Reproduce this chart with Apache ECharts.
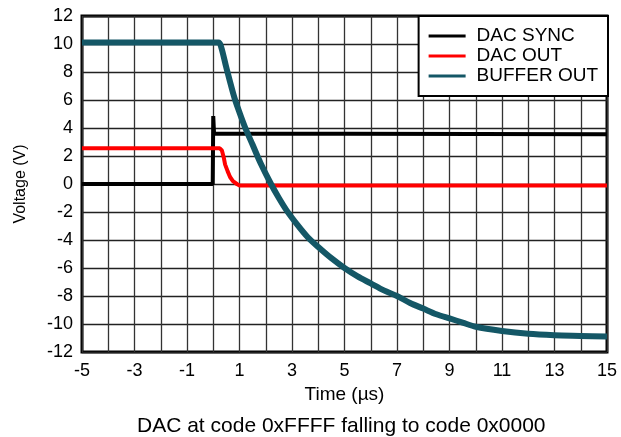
<!DOCTYPE html>
<html>
<head>
<meta charset="utf-8">
<script src="https://cdn.jsdelivr.net/npm/echarts@6/dist/echarts.min.js"></script>
<style>html,body{margin:0;padding:0;background:#fff;}#c{width:621px;height:437px;}</style>
</head>
<body>
<div id="c"></div>
<script>
// Series names
const seriesNames = ['DAC SYNC', 'DAC OUT', 'BUFFER OUT'];
// DAC SYNC (black)
const syncTime  = [-5, -0.02, -0.01, 0.0, 0.03, 0.1, 15];
const syncValue = [0, 0, 0, 4.85, 3.6, 3.55, 3.55];
// DAC OUT (red)
const outTime  = [-5, 0.25, 0.33, 0.4, 0.45, 0.55, 0.64, 0.75, 0.9, 1.0, 15];
const outValue = [2.55, 2.55, 2.4, 1.9, 1.4, 0.9, 0.5, 0.2, 0.0, -0.1, -0.1];
// BUFFER OUT (teal)
const bufTime  = [-5, 0.2, 0.3, 0.5, 0.8, 1.0, 1.2, 1.5, 1.8, 2.2, 2.5, 2.8, 3.2, 3.6, 4.0, 4.5, 5.0, 5.5, 6.0, 6.5, 7.0, 7.5, 8.0, 8.5, 9.0, 9.5, 10, 11, 12, 13, 14, 15];
const bufValue = [10.1, 10.1, 9.8, 8.3, 6.2, 5.1, 4.1, 2.8, 1.5, 0, -1.0, -1.9, -2.9, -3.8, -4.5, -5.3, -6.0, -6.6, -7.1, -7.6, -8.0, -8.5, -8.9, -9.3, -9.6, -9.9, -10.2, -10.5, -10.7, -10.8, -10.85, -10.9];
// Axes
const xMin = -5, xMax = 15, xStep = 1;
const yMin = -12, yMax = 12, yStep = 2;
const xTitle = 'Time (µs)';
const yTitle = 'Voltage (V)';
const caption = 'DAC at code 0xFFFF falling to code 0x0000';

const pairs = (t, v) => t.map((x, i) => [x, v[i]]);
const FONT = '"Liberation Sans", Arial, sans-serif';

const chart = echarts.init(document.getElementById('c'), null, {renderer: 'canvas'});
chart.setOption({
  animation: false,
  backgroundColor: '#fff',
  textStyle: {fontFamily: FONT, color: '#000'},
  title: {
    text: caption, left: 132, top: 411,
    textStyle: {fontFamily: FONT, fontSize: 21, fontWeight: 'normal', color: '#000'}
  },
  grid: {left: 82, top: 16, right: 14, bottom: 85, show: true, borderColor: '#000', borderWidth: 3, backgroundColor: 'transparent'},
  legend: {
    data: seriesNames, orient: 'vertical', right: 13, top: 16,
    backgroundColor: '#fff', borderColor: '#000', borderWidth: 2,
    padding: [10, 10, 10, 10], itemGap: 0, itemWidth: 37, itemHeight: 20,
    icon: 'path://M0,0 L37,0 L37,3 L0,3 Z',
    textStyle: {fontFamily: FONT, fontSize: 19, color: '#000', lineHeight: 20, padding: [0, 0, 0, 6]}
  },
  xAxis: {
    type: 'value', min: xMin, max: xMax, interval: xStep,
    name: xTitle, nameLocation: 'middle', nameGap: 30,
    nameTextStyle: {fontFamily: FONT, fontSize: 19, color: '#000'},
    axisLine: {show: false}, axisTick: {show: false},
    axisLabel: {fontFamily: FONT, fontSize: 18, color: '#000', margin: 10,
      formatter: v => (Math.abs(v) % 2 === 1 ? String(v) : '')},
    splitLine: {show: true, lineStyle: {color: '#333', width: 1.3}}
  },
  yAxis: {
    type: 'value', min: yMin, max: yMax, interval: yStep,
    name: yTitle, nameLocation: 'middle', nameGap: 53,
    nameTextStyle: {fontFamily: FONT, fontSize: 16, color: '#000'},
    axisLine: {show: false}, axisTick: {show: false},
    axisLabel: {fontFamily: FONT, fontSize: 18, color: '#000', margin: 9},
    splitLine: {show: true, lineStyle: {color: '#222', width: 1.3}}
  },
  series: [
    {name: seriesNames[0], type: 'line', data: pairs(syncTime, syncValue), showSymbol: false, symbol: 'none',
      lineStyle: {color: '#000', width: 4}, itemStyle: {color: '#000'}, z: 3},
    {name: seriesNames[1], type: 'line', data: pairs(outTime, outValue), showSymbol: false, symbol: 'none',
      lineStyle: {color: '#ff0000', width: 4}, itemStyle: {color: '#ff0000'}, z: 4},
    {name: seriesNames[2], type: 'line', data: pairs(bufTime, bufValue), showSymbol: false, symbol: 'none', smooth: 0.3,
      lineStyle: {color: '#145766', width: 6}, itemStyle: {color: '#145766'}, z: 5}
  ]
});
</script>
</body>
</html>
